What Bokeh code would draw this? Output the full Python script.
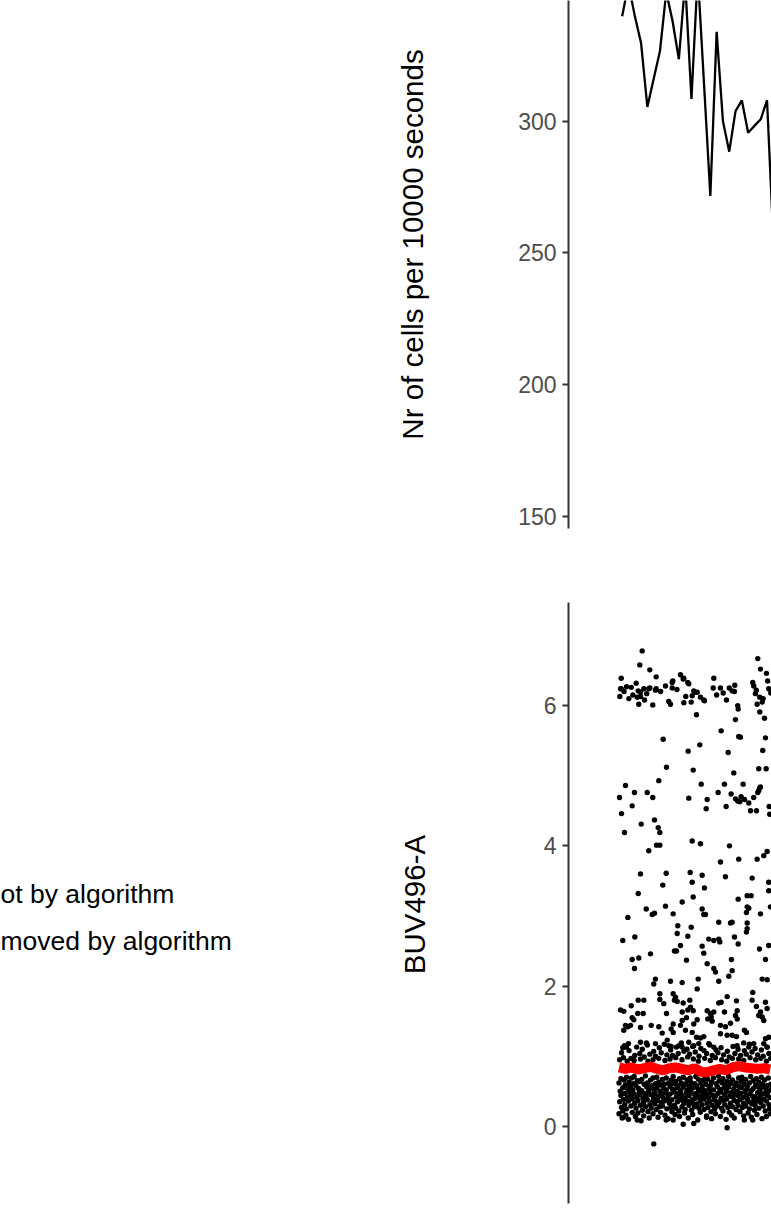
from bokeh.plotting import figure
from bokeh.models import Range1d, FixedTicker, Label, ColumnDataSource
from bokeh.layouts import column, row
from bokeh.embed import file_html
from bokeh.resources import INLINE
import math

# ---------------- data ----------------
# Top panel: number of cells per 10000 s bin (time in units of 1000 s, bin centres)
BIN_TIME = [5, 15, 25, 35, 45, 55, 65, 75, 85, 95, 105, 115, 125,
            135, 145, 155, 165, 175, 185, 195, 205, 215, 225, 235, 245]
CELL_COUNTS = [339.8, 352, 340, 329.7, 305.4, 316, 326.6, 349, 338, 323.5, 353, 308.4, 356,
               314, 271.6, 333.9, 300, 288.4, 303.8, 307.9, 295.6, 298.2, 300.7, 307.9, 255]
TOP_TICKS = [150, 200, 250, 300, 350]

# Bottom panel: BUV496-A per cell (time in units of 1000 s, value)
SPARSE_CELLS = [
    (36.8, 6.78), (33, 6.58), (48.9, 6.51), (3.5, 6.39), (59, 6.41), (27.3, 6.32), (19.4, 6.26),
    (3.5, 6.24), (39.4, 6.24), (48.9, 6.25), (57.9, 6.22), (73.8, 6.28), (84.4, 6.33), (84.4, 6.25),
    (97.6, 6.44), (102.9, 6.39), (109.2, 6.33), (1.3, 6.13), (15.6, 6.10), (28.9, 6.12), (34.1, 6.19),
    (40.5, 6.08), (31.4, 6.02), (53.6, 6.01), (79, 6.06), (81.7, 6.02), (102.9, 6.04), (114.6, 6.05),
    (118.7, 6.21), (124.1, 6.19), (116.2, 6.14), (129.3, 6.12), (135.7, 6.07), (123, 5.87), (150.5, 6.39),
    (149.5, 6.25), (161.1, 6.25), (165.4, 6.18), (170.6, 6.08), (179.6, 6.21), (183.8, 6.29), (183.3, 6.20),
    (188.5, 6.0), (189.2, 5.95), (184.9, 5.80), (162.2, 5.64), (190.1, 5.56), (192.8, 5.55), (173.3, 5.33),
    (220.3, 6.67), (224.6, 6.52), (234.1, 6.46), (212.3, 6.33), (213.9, 6.28), (237.7, 6.24), (216.6, 6.17),
    (223.5, 6.12), (228.8, 6.10), (227.3, 6.05), (219.3, 6.02), (223.5, 5.91), (230.9, 5.82), (232.5, 5.54),
    (228.2, 5.36), (70.1, 5.52), (128.2, 5.44), (109.8, 5.35), (75.4, 5.12), (117.8, 5.08), (182.2, 5.04),
    (221.9, 5.10), (233.6, 5.10), (63.2, 4.93),
    (2.4, 6.24), (30.5, 6.21), (34.1, 6.13), (47.3, 6.24), (59, 6.24), (85.4, 6.35), (101.9, 6.38),
    (110.8, 6.31), (121.4, 6.19), (134.6, 6.08), (22, 6.15), (8, 6.2), (12, 6.27), (44, 6.17), (66, 6.2),
    (92, 6.23), (106, 6.13), (155, 6.15), (175, 6.25), (218, 6.22), (236, 6.35), (241, 6.18),
    (10.3, 4.86), (24.6, 4.76), (0.8, 4.69), (44.8, 4.76), (53.6, 4.69), (20.9, 4.57), (4, 4.46),
    (8.7, 4.19), (35.2, 4.31), (56.3, 4.37), (62.2, 4.26), (64.8, 4.19), (47.3, 3.93), (59.5, 4.01),
    (64.8, 4.01), (110.8, 4.68), (130.5, 4.88), (140, 4.66), (138.4, 4.53), (157.4, 4.76), (167.4, 4.88),
    (170.1, 4.56), (178, 4.74), (184.9, 4.67), (188.5, 4.64), (193.9, 4.70), (197.1, 4.88), (199.2, 4.66),
    (208.7, 4.50), (218.2, 4.50), (213.9, 4.69), (221.9, 4.79), (224.6, 4.84), (238.4, 4.56), (239.3, 4.45),
    (191.7, 4.63), (206, 4.61), (220.3, 4.76), (223.5, 4.83),
    (116.2, 4.07), (129.3, 4.03), (175.4, 4.0), (190.1, 3.81), (219.3, 3.81), (229.8, 3.86), (235.2, 3.92),
    (161.1, 3.77), (34.1, 3.60), (74.9, 3.61), (113, 3.62), (132, 3.58), (116.2, 3.48), (69.5, 3.44),
    (169, 3.56), (135.7, 3.40), (211.4, 3.54), (237.7, 3.48), (237.7, 3.36), (30.5, 3.32), (117.8, 3.27),
    (100.3, 3.20), (189.2, 3.24), (203.5, 3.29), (209.8, 3.29), (203.5, 3.13), (73.8, 3.14), (43.2, 3.10),
    (132, 3.10), (52.7, 3.02), (56.3, 3.04), (86, 3.03), (134.6, 3.02), (137.3, 3.02), (206, 3.11),
    (202.3, 3.05), (224.6, 3.03), (240.4, 3.13), (14, 2.98), (93.3, 2.86), (114.6, 2.84), (158.4, 2.91),
    (177, 2.90), (179.6, 2.91), (203.5, 2.90), (203.5, 2.82),
    (6, 2.65), (25.1, 2.70), (92.4, 2.75), (109.2, 2.71), (142.5, 2.67), (150.5, 2.65), (158.4, 2.67),
    (160, 2.63), (183.3, 2.70), (202.3, 2.77), (189.2, 2.60), (97.6, 2.58), (88, 2.50), (91.3, 2.50),
    (132, 2.57), (134.6, 2.47), (50, 2.46), (223, 2.53), (237.7, 2.58), (20.9, 2.38), (31.4, 2.40),
    (107.1, 2.37), (140, 2.32), (178.5, 2.38), (232.5, 2.38), (24.6, 2.25), (150.5, 2.25), (153.2, 2.20),
    (179.6, 2.22), (174.3, 2.14), (227.3, 2.10), (235.2, 2.09), (57.9, 2.10), (55.2, 2.03), (81.7, 2.07),
    (100.3, 2.05), (125.7, 2.10), (158.4, 2.07),
    (124.1, 1.96), (64.8, 1.89), (86, 1.89), (89.7, 1.84), (171.7, 1.85), (212.3, 1.91), (30.5, 1.80),
    (39.4, 1.80), (64.8, 1.81), (71.1, 1.75), (88, 1.80), (92.4, 1.78), (101.9, 1.76), (112.4, 1.80),
    (113.5, 1.70), (109.2, 1.66), (117.8, 1.65), (158.4, 1.76), (162.2, 1.77), (186.5, 1.79), (211.4, 1.80),
    (232.5, 1.77), (19.4, 1.72), (2.4, 1.66), (7.6, 1.64), (29.8, 1.61), (38.4, 1.61), (75.4, 1.61),
    (100.3, 1.63), (140, 1.65), (145.2, 1.61), (150.5, 1.63), (167.4, 1.63), (187.6, 1.65), (184.9, 1.58),
    (218.2, 1.71), (224.6, 1.63), (221.9, 1.58), (235.2, 1.68), (20.9, 1.55), (23.5, 1.52), (51.1, 1.44),
    (63.2, 1.42), (86, 1.46), (82.8, 1.39), (97.6, 1.44), (100.3, 1.51), (107.1, 1.55), (124.1, 1.52),
    (118.7, 1.46), (140.9, 1.53), (147.9, 1.50), (146.3, 1.56), (161.1, 1.44), (169, 1.42), (177, 1.47),
    (187.6, 1.53), (202.3, 1.34), (199.2, 1.37), (227.3, 1.56), (229.8, 1.51), (10.3, 1.44), (7.6, 1.37),
    (14, 1.42), (18.3, 1.44), (34.1, 1.41), (68.6, 1.33), (86, 1.34), (105.5, 1.37), (116.2, 1.34),
    (123, 1.27), (129.3, 1.26), (134.6, 1.28), (171.7, 1.30), (179.6, 1.30), (186.5, 1.28), (161.1, 1.32),
    (232.5, 1.25), (237.7, 1.27), (34.1, 1.20), (43.6, 1.19), (11.9, 1.13), (8.7, 1.15), (57.9, 1.18),
    (76.5, 1.23), (79, 1.15), (82.8, 1.14), (94.9, 1.15), (100.3, 1.13), (110.8, 1.20), (118.7, 1.15),
    (126.6, 1.18), (142.5, 1.18), (150.5, 1.13), (187.6, 1.15), (198, 1.19), (206, 1.13), (213.9, 1.18),
    (229.8, 1.18), (235.2, 1.13),
    (55.2, -0.25), (171.7, -0.02), (7, 0.13), (29, 0.09), (74.9, 0.09), (86, 0.09), (101.9, 0.03),
    (118.7, 0.04), (139, 0.13), (199, 0.09), (212.3, 0.09),
]

DENSE_CELLS = [
    (0, .62), (1, .35), (0, .18), (2, .50), (1, .95),
    (3, .44), (4, .27), (3, .68), (5, .12), (4, 1.05),
    (6, .55), (7, .38), (6, .22), (8, .66), (7, .98), (6, 1.12),
    (9, .31), (10, .59), (9, .47), (11, .16),
    (12, .70), (13, .41), (12, .25), (14, .53), (13, .93),
    (15, .36), (16, .63), (15, .10), (17, .48), (16, 1.08), (15, 1.18),
    (18, .57), (19, .29), (18, .44), (20, .69), (19, .97),
    (21, .20), (22, .52), (21, .39), (23, .61),
    (24, .46), (25, .33), (24, .71), (26, .14), (25, 1.01), (24, .94),
    (27, .58), (28, .42), (27, .26), (29, .65), (28, 1.13),
    (30, .37), (31, .54), (30, .19), (32, .48),
    (33, .64), (34, .30), (33, .45), (35, .08), (34, .96), (33, 1.04),
    (36, .51), (37, .23), (36, .67), (38, .40), (37, 1.10),
    (39, .34), (40, .60), (39, .15), (41, .47), (40, .99),
    (42, .72), (43, .43), (42, .28), (44, .56),
    (45, .38), (46, .21), (45, .62), (47, .49), (46, .93), (45, 1.16),
    (48, .53), (49, .31), (48, .12), (50, .66), (49, 1.03),
    (51, .45), (52, .58), (51, .26), (53, .35),
    (54, .69), (55, .40), (54, .18), (56, .52), (55, 1.07), (54, .95),
    (57, .32), (58, .61), (57, .47), (59, .24), (58, 1.00),
    (60, .55), (61, .37), (60, .70), (62, .13),
    (63, .43), (64, .28), (63, .63), (65, .50), (64, 1.12), (63, .97),
    (66, .59), (67, .34), (66, .20), (68, .46), (67, 1.05),
    (69, .67), (70, .41), (69, .29), (71, .54),
    (72, .36), (73, .16), (72, .60), (74, .48), (73, .94), (72, 1.17),
    (75, .52), (76, .25), (75, .69), (77, .39), (76, 1.02),
    (78, .44), (79, .62), (78, .11), (80, .33),
    (81, .57), (82, .27), (81, .46), (83, .66), (82, 1.09), (81, .96),
    (84, .38), (85, .53), (84, .21), (86, .71), (85, 1.01),
    (87, .49), (88, .30), (87, .61), (89, .17),
    (90, .64), (91, .42), (90, .26), (92, .55), (91, 1.13), (90, .98),
    (93, .35), (94, .58), (93, .47), (95, .22), (94, 1.04),
    (96, .68), (97, .39), (96, .14), (98, .51),
    (99, .45), (100, .28), (99, .62), (101, .37), (100, .95), (99, 1.19),
    (102, .56), (103, .33), (102, .70), (104, .19), (103, 1.07),
    (105, .41), (106, .60), (105, .24), (107, .48),
    (108, .66), (109, .36), (108, .52), (110, .12), (109, .99), (108, 1.10),
    (111, .30), (112, .57), (111, .44), (113, .69), (112, 1.03),
    (114, .50), (115, .23), (114, .63), (116, .38),
    (117, .34), (118, .55), (117, .17), (119, .46), (118, .96), (117, 1.14),
    (120, .61), (121, .40), (120, .28), (122, .71), (121, 1.06),
    (123, .47), (124, .32), (123, .58), (125, .09),
    (126, .53), (127, .26), (126, .67), (128, .42), (127, 1.00), (126, .93),
    (129, .37), (130, .62), (129, .20), (131, .49), (130, 1.11),
    (132, .56), (133, .44), (132, .31), (134, .66),
    (135, .24), (136, .51), (135, .39), (137, .70), (136, .97), (135, 1.08),
    (138, .45), (139, .15), (138, .60), (140, .33), (139, 1.04),
    (141, .67), (142, .41), (141, .27), (143, .54),
    (144, .36), (145, .58), (144, .48), (146, .21), (145, .94), (144, 1.16),
    (147, .63), (148, .30), (147, .11), (149, .44), (148, 1.01),
    (150, .52), (151, .38), (150, .69), (152, .25),
    (153, .43), (154, .61), (153, .18), (155, .35), (154, 1.09), (153, .98),
    (156, .57), (157, .47), (156, .29), (158, .72), (157, 1.05),
    (159, .34), (160, .53), (159, .65), (161, .14),
    (162, .49), (163, .26), (162, .40), (164, .62), (163, .95), (162, 1.12),
    (165, .68), (166, .37), (165, .22), (167, .55), (166, 1.02),
    (168, .45), (169, .59), (168, .31), (170, .10),
    (171, .39), (172, .64), (171, .50), (173, .27), (172, 1.07), (171, .93),
    (174, .56), (175, .20), (174, .71), (176, .43), (175, .99),
    (177, .33), (178, .48), (177, .61), (179, .16),
    (180, .66), (181, .42), (180, .28), (182, .53), (181, 1.14), (180, .97),
    (183, .37), (184, .58), (183, .12), (185, .46), (184, 1.04),
    (186, .62), (187, .35), (186, .24), (188, .50),
    (189, .44), (190, .69), (189, .30), (191, .57), (190, .96), (189, 1.10),
    (192, .21), (193, .47), (192, .38), (194, .64), (193, 1.01),
    (195, .55), (196, .27), (195, .70), (197, .41),
    (198, .33), (199, .60), (198, .15), (200, .49), (199, 1.08), (198, .94),
    (201, .67), (202, .44), (201, .29), (203, .53), (202, 1.03),
    (204, .39), (205, .19), (204, .58), (206, .35),
    (207, .62), (208, .46), (207, .25), (209, .71), (208, .98), (207, 1.17),
    (210, .51), (211, .32), (210, .13), (212, .43), (211, 1.06),
    (213, .65), (214, .37), (213, .54), (215, .23),
    (216, .42), (217, .59), (216, .30), (218, .68), (217, .95), (216, 1.11),
    (219, .17), (220, .48), (219, .36), (221, .56), (220, 1.02),
    (222, .63), (223, .40), (222, .26), (224, .52),
    (225, .34), (226, .70), (225, .45), (227, .11), (226, 1.09), (225, .97),
    (228, .57), (229, .29), (228, .61), (230, .39), (229, 1.00),
    (231, .47), (232, .22), (231, .66), (233, .54),
    (234, .36), (235, .58), (234, .14), (236, .44), (235, 1.13), (234, .93),
    (237, .69), (238, .31), (237, .50), (239, .25), (238, 1.04),
    (240, .41), (241, .60), (240, .18), (242, .53), (241, .97),
]

# Running median (red line)
MEDIAN_TIME = [0, 10, 20, 30, 40, 50, 60, 70, 80, 90, 100, 110, 120,
               130, 140, 150, 160, 170, 180, 190, 200, 210, 220, 230, 240]
MEDIAN_VALUE = [0.84, 0.82, 0.84, 0.81, 0.83, 0.85, 0.82, 0.80, 0.83, 0.84, 0.82, 0.80, 0.83,
                0.78, 0.77, 0.80, 0.82, 0.80, 0.84, 0.86, 0.84, 0.83, 0.82, 0.83, 0.81]
BOTTOM_TICKS = [0, 2, 4, 6]

TOP_TITLE = "Nr of cells per 10000 seconds"
BOTTOM_TITLE = "BUV496-A"
LEGEND_TEXTS = ["ot by algorithm", "moved by algorithm"]

FONT = "Liberation Sans"
X_RANGE = (-80.2, 242.1)
LEFT_W = 440
PAGE_H = 1212


def style_axis(p, ticks):
    ax = p.yaxis[0]
    ax.ticker = FixedTicker(ticks=ticks)
    ax.axis_line_color = "#333333"
    ax.axis_line_width = 2
    ax.major_tick_line_color = "#333333"
    ax.major_tick_line_width = 2
    ax.major_tick_out = 6
    ax.major_tick_in = 0
    ax.minor_tick_line_color = None
    ax.major_label_text_font = FONT
    ax.major_label_text_font_size = "23px"
    ax.major_label_text_color = "#4d4d4d"
    ax.major_label_standoff = 6
    p.xgrid.visible = False
    p.ygrid.visible = False
    p.outline_line_color = None
    p.background_fill_color = "white"
    p.border_fill_color = "white"


# ---------------- left strip: axis titles and legend texts ----------------
left = figure(width=LEFT_W, height=PAGE_H, output_backend="svg", toolbar_location=None,
              x_range=Range1d(0, LEFT_W), y_range=Range1d(0, PAGE_H),
              x_axis_location=None, y_axis_location=None,
              min_border=0, min_border_left=0, min_border_right=0,
              min_border_top=0, min_border_bottom=0)
left.xgrid.visible = False
left.ygrid.visible = False
left.outline_line_color = None
left.add_layout(Label(x=412, y=PAGE_H - 244, text=TOP_TITLE, angle=math.pi / 2,
                      text_align="center", text_baseline="middle",
                      text_font=FONT, text_font_size="29.5px", text_color="black"))
left.add_layout(Label(x=414, y=PAGE_H - 904, text=BOTTOM_TITLE, angle=math.pi / 2,
                      text_align="center", text_baseline="middle",
                      text_font=FONT, text_font_size="29.5px", text_color="black"))
for txt, yy in zip(LEGEND_TEXTS, [893, 940]):
    left.add_layout(Label(x=0, y=PAGE_H - yy, text=txt, text_align="left",
                          text_baseline="middle", text_font=FONT,
                          text_font_size="26.5px", text_color="black"))

# ---------------- top panel ----------------
top = figure(width=771 - LEFT_W, height=590, output_backend="svg", toolbar_location=None,
             x_range=Range1d(*X_RANGE), y_range=Range1d(145.3, 345.8),
             x_axis_location=None, min_border_left=568 - LEFT_W, min_border_right=0,
             min_border_top=0, min_border_bottom=62)
style_axis(top, TOP_TICKS)
top.line(BIN_TIME, CELL_COUNTS, line_color="black", line_width=2.3)

# ---------------- bottom panel ----------------
bot = figure(width=771 - LEFT_W, height=622, output_backend="svg", toolbar_location=None,
             x_range=Range1d(*X_RANGE), y_range=Range1d(-1.10, 7.47),
             x_axis_location=None, min_border_left=568 - LEFT_W, min_border_right=0,
             min_border_top=12, min_border_bottom=9)
style_axis(bot, BOTTOM_TICKS)

cells = SPARSE_CELLS + DENSE_CELLS
src = ColumnDataSource(dict(time=[c[0] for c in cells], value=[c[1] for c in cells]))
bot.scatter("time", "value", source=src, marker="circle", size=5.4,
            fill_color="black", line_color=None)
bot.line(MEDIAN_TIME, MEDIAN_VALUE, line_color="#ff0000", line_width=10)

layout = row(left, column(top, bot, spacing=0), spacing=0)
open("out.html", "w").write(file_html(layout, INLINE))
